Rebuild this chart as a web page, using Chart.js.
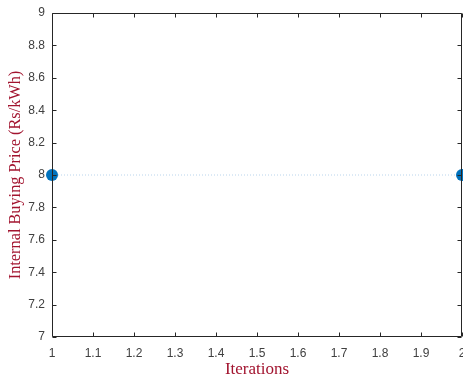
<!DOCTYPE html>
<html>
<head>
<meta charset="utf-8">
<script src="https://cdn.jsdelivr.net/npm/chart.js@4/dist/chart.umd.min.js"></script>
<style>
  html, body { margin: 0; padding: 0; background: #fff; }
  #wrap { width: 463px; height: 380px; position: relative; }
</style>
</head>
<body>
<div id="wrap"><canvas id="c" width="463" height="380"></canvas></div>
<script>
// Iteration number vs. internal buying price
const iterations = [1, 2];
const buyingPrice = [8, 8];
const xTicks = [1, 1.1, 1.2, 1.3, 1.4, 1.5, 1.6, 1.7, 1.8, 1.9, 2];
const yTicks = [7, 7.2, 7.4, 7.6, 7.8, 8, 8.2, 8.4, 8.6, 8.8, 9];

const axisColor = '#262626';
const labelColor = '#404040';
const titleColor = '#A2142F';

// Draws the box around the plot with inward ticks on all four sides
const boxPlugin = {
  id: 'box',
  afterDatasetsDraw(chart) {
    const { ctx, chartArea: a, scales } = chart;
    ctx.save();
    ctx.strokeStyle = axisColor;
    ctx.lineWidth = 1;
    ctx.beginPath();
    const L = Math.round(a.left) + 0.5, R = Math.round(a.right) - 0.5;
    const T = Math.round(a.top) + 0.5, B = Math.round(a.bottom) - 0.5;
    ctx.rect(L, T, R - L, B - T);
    const len = 4;
    scales.x.ticks.forEach(t => {
      const px = Math.round(scales.x.getPixelForValue(t.value)) + 0.5;
      ctx.moveTo(px, B); ctx.lineTo(px, B - len);
      ctx.moveTo(px, T); ctx.lineTo(px, T + len);
    });
    scales.y.ticks.forEach(t => {
      const py = Math.round(scales.y.getPixelForValue(t.value)) + 0.5;
      ctx.moveTo(L, py); ctx.lineTo(L + len, py);
      ctx.moveTo(R, py); ctx.lineTo(R - len, py);
    });
    ctx.stroke();
    ctx.restore();
  }
};

new Chart(document.getElementById('c'), {
  type: 'line',
  data: {
    datasets: [{
      data: iterations.map((x, i) => ({ x: x, y: buyingPrice[i] })),
      borderColor: '#b9d4ec',
      borderWidth: 1,
      borderDash: [1, 2],
      pointRadius: 6,
      pointHoverRadius: 6,
      pointBackgroundColor: '#0072BD',
      pointBorderColor: '#0072BD',
      pointBorderWidth: 0,
      clip: false
    }]
  },
  options: {
    responsive: false,
    animation: false,
    events: [],
    layout: { autoPadding: false, padding: { top: 13, right: 1, left: 0, bottom: 0 } },
    plugins: { legend: { display: false }, tooltip: { enabled: false } },
    scales: {
      x: {
        type: 'linear',
        min: 1, max: 2,
        afterBuildTicks(s) { s.ticks = xTicks.map(v => ({ value: v })); },
        afterFit(s) { s.height = 43; s.paddingLeft = 0; s.paddingRight = 0; },
        grid: { display: false, drawTicks: false },
        border: { display: false },
        ticks: {
          autoSkip: false,
          maxRotation: 0,
          padding: 9,
          color: labelColor,
          font: { family: 'Liberation Sans, Arial, sans-serif', size: 12 },
          callback: v => String(Math.round(v * 10) / 10)
        },
        title: {
          display: true,
          text: 'Iterations',
          color: titleColor,
          padding: { top: 1, bottom: 0 },
          font: { family: 'Liberation Serif, Times New Roman, serif', size: 17 }
        }
      },
      y: {
        type: 'linear',
        min: 7, max: 9,
        afterBuildTicks(s) { s.ticks = yTicks.map(v => ({ value: v })); },
        afterFit(s) { s.width = 52; s.paddingTop = 0; s.paddingBottom = 0; },
        grid: { display: false, drawTicks: false },
        border: { display: false },
        ticks: {
          autoSkip: false,
          padding: 7,
          color: labelColor,
          font: { family: 'Liberation Sans, Arial, sans-serif', size: 12 },
          callback: v => String(Math.round(v * 10) / 10)
        },
        title: {
          display: true,
          text: 'Internal Buying Price (Rs/kWh)',
          color: titleColor,
          padding: { top: 6, bottom: 0 },
          font: { family: 'Liberation Serif, Times New Roman, serif', size: 16.3 }
        }
      }
    }
  },
  plugins: [boxPlugin]
});
</script>
</body>
</html>
